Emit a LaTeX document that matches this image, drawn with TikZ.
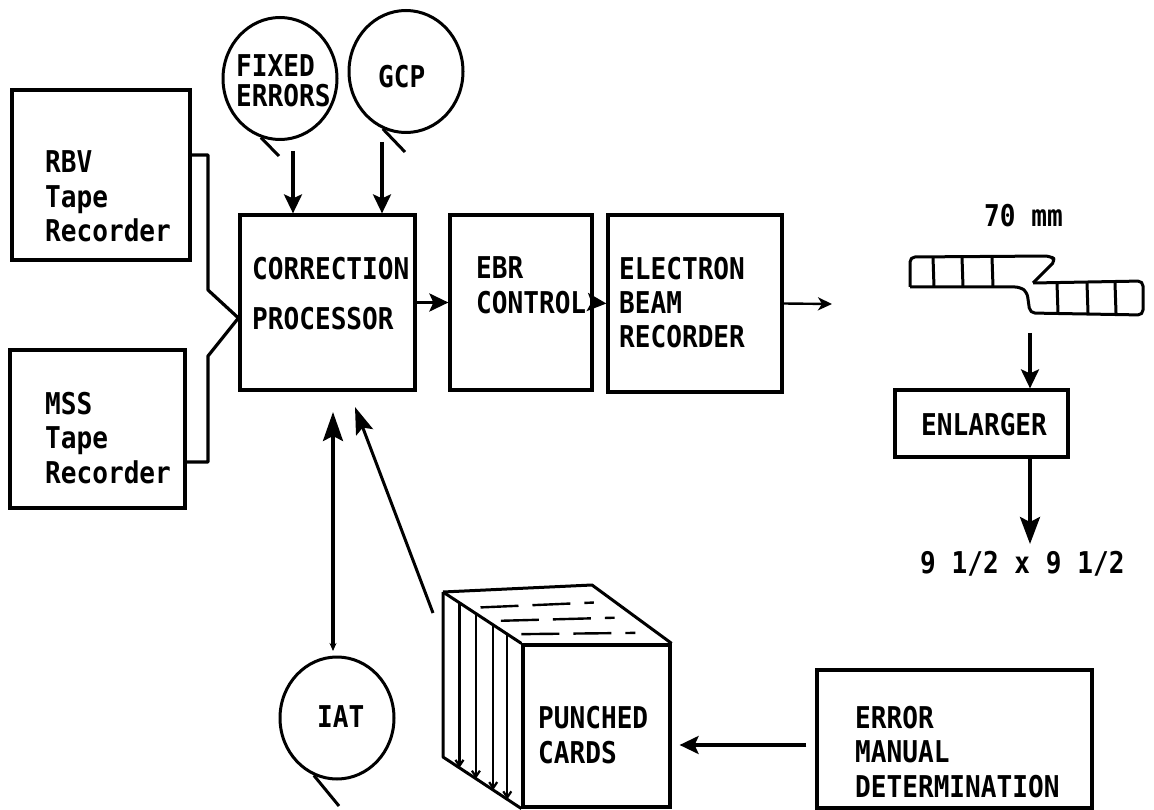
\documentclass[tikz,border=0pt]{standalone}
\usepackage{fontspec}
\newfontfamily\plotfont[FakeStretch=0.87]{DejaVu Sans Mono}
\usetikzlibrary{arrows.meta,calc,shapes.geometric}

\begin{document}
\begin{tikzpicture}[x=1pt,y=-1pt,
  box/.style={draw,line width=3.2pt,inner sep=0pt},
  reel/.style={draw,ellipse,line width=3pt,inner sep=0pt,minimum width=114pt,minimum height=122pt},
  lbl/.style={font=\plotfont\bfseries\fontsize{30}{34.5}\selectfont,inner sep=0pt,align=left,anchor=base west},
  wire/.style={line width=3.2pt,line join=round},
  tail/.style={line width=3pt},
  flow/.style={line width=3.2pt,-{Stealth[length=19pt,width=18pt,inset=4pt]}},
  bigflow/.style={line width=3.4pt,-{Stealth[length=27pt,width=20pt,inset=5pt]}},
  thinflow/.style={line width=2.4pt,-{Stealth[length=14pt,width=13pt,inset=4pt]}},
  edge/.style={line width=3pt,line join=round},
  cardedge/.style={line width=2.2pt,-{Straight Barb[length=6pt,width=8pt]}},
]
\useasboundingbox (0,0) rectangle (1154,810);

% ---- processing chain ----
\node[box,minimum width=178pt,minimum height=170pt] (rbv) at (101,175) {};
\node[box,minimum width=175pt,minimum height=158pt] (mss) at (97.5,429) {};
\node[box,minimum width=175pt,minimum height=175pt] (cp) at (327.5,302.5) {};
\node[box,minimum width=142pt,minimum height=175pt] (ebrc) at (521,302.5) {};
\node[box,minimum width=174pt,minimum height=177pt] (ebr) at (695,303.5) {};
\node[box,minimum width=173pt,minimum height=67pt] (enl) at (981.5,423.5) {};
\node[box,minimum width=275pt,minimum height=138pt] (err) at (954.5,739) {};

% multi-line labels are placed by the baseline of their last line
\node[lbl] (rbvtxt) at (45,242) {RBV\\Tape\\Recorder};
\node[lbl] (msstxt) at (45,483) {MSS\\Tape\\Recorder};
\node[lbl,font=\plotfont\bfseries\fontsize{30}{50}\selectfont] (cptxt) at (252,330) {CORRECTION\\PROCESSOR};
\node[lbl] (ebrctxt) at (476,313) {EBR\\CONTROL};
\node[lbl] (ebrtxt) at (619,348) {ELECTRON\\BEAM\\RECORDER};
\node[lbl] (enltxt) at (921,435) {ENLARGER};
\node[lbl] (errtxt) at (855,797) {ERROR\\MANUAL\\DETERMINATION};
\node[lbl] (filmtxt) at (984,227) {70 mm};
\node[lbl] (sizetxt) at (920,573) {9 1/2 x 9 1/2};

% ---- tape reels ----
\node[reel] (fe) at (280,78.5) {};
\node[reel] (gcp) at (406,71.5) {};
\node[reel] (iat) at (337,718) {};
\node[lbl,font=\plotfont\bfseries\fontsize{30}{30}\selectfont] (fetxt) at (236,107) {FIXED\\ERRORS};
\node[lbl] (gcptxt) at (378,88) {GCP};
\node[lbl] (iattxt) at (317,727) {IAT};

\coordinate (fetail) at (279,156);
\coordinate (gcptail) at (405,152);
\coordinate (iattail) at (339,806);
\draw[tail] (fe.-108) -- (fetail);
\draw[tail] (gcp.-112) -- (gcptail);
\draw[tail] (iat.-112) -- (iattail);

% ---- tape recorders into the correction processor ----
\coordinate (join) at ([yshift=-15.5pt]cp.west);
\coordinate (bendA) at (208,290);
\coordinate (bendB) at (208,356);
\draw[wire] ([yshift=20pt]rbv.east) -| (bendA) -- (join);
\draw[wire] (join) -- (bendB) |- ([yshift=-33pt]mss.east);

% ---- reel inputs ----
\coordinate (fein) at (293,151);
\coordinate (gcpin) at (382,142);
\draw[flow] (fein) -- (fein |- cp.north);
\draw[flow] (gcpin) -- (gcpin |- cp.north);

% ---- chain arrows ----
\draw[flow] (cp.east) -- (ebrc.west);
\draw[flow] (ebrc.east) -- (ebr.west);
\coordinate (filmin) at (832,304);
\draw[thinflow] (ebr.east) -- (filmin);

% ---- 70 mm film strip, folded over ----
\draw[edge,rounded corners=5pt] (910,287) -- (910,257) -- (1050,256) -- (1056,260) -- (1033,283);
\draw[edge,rounded corners=5pt] (1033,283) -- (1143,281) -- (1143,315) -- (1030,313)
  -- (1027,292) -- (1020,287) -- (910,287);
\foreach \x in {933,962,992} \draw[edge] (\x,257) -- (\x+1,287);
\foreach \x in {1057,1087,1115} \draw[edge] (\x,283) -- (\x+1,313);

\coordinate (filmout) at (1030,333);
\draw[flow] (filmout) -- (filmout |- enl.north);
\coordinate (sizein) at (1030,544);
\draw[bigflow] (sizein |- enl.south) -- (sizein);

% ---- punched cards ----
\node[box,minimum width=147pt,minimum height=162pt] (cardfront) at (596.5,726) {};
\node[lbl] (cardtxt) at (538,763) {PUNCHED\\CARDS};
\coordinate (cB) at (443,592);
\coordinate (cC) at (592,585);
\coordinate (cJ) at (443,757);
\draw[edge] (cB) -- (cC) -- (cardfront.north east);
\draw[edge] (cB) -- (cardfront.north west);
\draw[edge] (cB) -- (cJ) -- (cardfront.south west);
\foreach \t in {0.21,0.42,0.64,0.82}
  \draw[cardedge] ($(cB)!\t!(cardfront.north west)$) -- ($(cJ)!\t!(cardfront.south west)$);
\foreach \t in {0.3,0.56,0.82}
  \draw[line width=2.4pt,dash pattern=on 38pt off 14pt]
    ($(cB)!\t!(cardfront.north west)+(14,0)$) -- ($(cC)!\t!(cardfront.north east)+(-22,0)$);

% ---- feedback arrows ----
\draw[flow] ([xshift=-9pt,yshift=-6pt]err.west) -- ([xshift=8pt,yshift=-19pt]cardfront.east);
\coordinate (iattop) at (333,412);
\coordinate (iatfoot) at (333,651);
\draw[line width=3.2pt,{Stealth[length=8pt,width=7pt]}-{Stealth[length=29pt,width=20pt,inset=5pt]}] (iatfoot) -- (iattop);
\coordinate (cardsout) at (433,613);
\coordinate (cardsin) at (355,407);
\draw[line width=3pt,-{Stealth[length=27pt,width=18pt,inset=5pt]}] (cardsout) -- (cardsin);
\end{tikzpicture}
\end{document}
